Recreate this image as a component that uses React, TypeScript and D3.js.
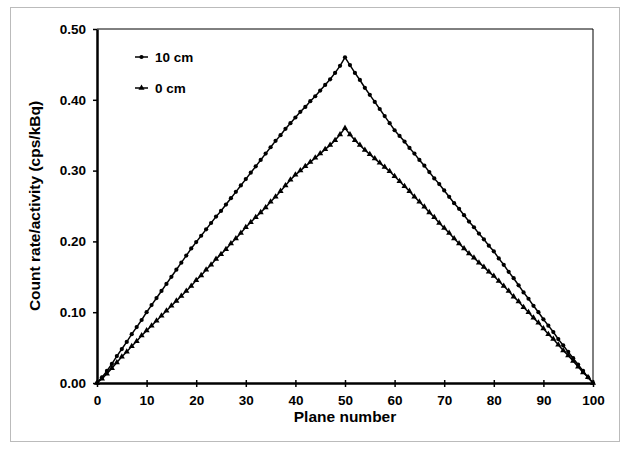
import React, { useEffect, useRef } from "react";
import * as d3 from "d3";

// plane index 0..100
const planes: number[] = d3.range(0, 101);

const series10cm: number[] = [
  0.000, 0.008, 0.017, 0.027, 0.038, 0.048, 0.058, 0.069, 0.079, 0.089,
  0.100, 0.110, 0.120, 0.130, 0.140, 0.150, 0.160, 0.170, 0.180, 0.190,
  0.199, 0.208, 0.217, 0.226, 0.235, 0.243, 0.252, 0.261, 0.270, 0.279,
  0.288, 0.297, 0.306, 0.315, 0.324, 0.333, 0.342, 0.350, 0.359, 0.367,
  0.375, 0.383, 0.390, 0.398, 0.405, 0.413, 0.421, 0.429, 0.438, 0.448,
  0.460, 0.449, 0.438, 0.428, 0.417, 0.407, 0.397, 0.387, 0.377, 0.367,
  0.357, 0.349, 0.341, 0.332, 0.324, 0.315, 0.307, 0.298, 0.289, 0.281,
  0.272, 0.263, 0.254, 0.246, 0.237, 0.228, 0.220, 0.211, 0.203, 0.194,
  0.186, 0.176, 0.167, 0.157, 0.148, 0.138, 0.128, 0.119, 0.109, 0.100,
  0.090, 0.081, 0.072, 0.062, 0.053, 0.044, 0.035, 0.026, 0.017, 0.008,
  0.000,
];

const series0cm: number[] = [
  0.000, 0.006, 0.013, 0.021, 0.029, 0.037, 0.044, 0.052, 0.059, 0.067,
  0.074, 0.081, 0.088, 0.095, 0.102, 0.109, 0.116, 0.123, 0.130, 0.137,
  0.145, 0.152, 0.160, 0.167, 0.175, 0.182, 0.189, 0.197, 0.204, 0.212,
  0.220, 0.227, 0.234, 0.241, 0.248, 0.256, 0.263, 0.271, 0.279, 0.287,
  0.294, 0.300, 0.306, 0.312, 0.318, 0.324, 0.330, 0.336, 0.343, 0.351,
  0.360, 0.351, 0.343, 0.336, 0.329, 0.323, 0.317, 0.311, 0.305, 0.299,
  0.292, 0.285, 0.278, 0.271, 0.263, 0.256, 0.249, 0.241, 0.234, 0.226,
  0.219, 0.212, 0.204, 0.197, 0.190, 0.183, 0.177, 0.170, 0.164, 0.157,
  0.151, 0.144, 0.137, 0.130, 0.122, 0.115, 0.107, 0.100, 0.092, 0.085,
  0.077, 0.069, 0.062, 0.054, 0.046, 0.039, 0.031, 0.023, 0.015, 0.008,
  0.000,
];

const legendLabels: string[] = ["10 cm", "0 cm"];
const xTicks: number[] = [0, 10, 20, 30, 40, 50, 60, 70, 80, 90, 100];
const yTicks: number[] = [0, 0.1, 0.2, 0.3, 0.4, 0.5];

const FONT = "'Liberation Sans', Arial, sans-serif";

const App = () => {
  const svgRef = useRef<SVGSVGElement>(null);

  useEffect(() => {
    const dims = { width: 623, height: 449, left: 97, right: 593, top: 29, bottom: 383 };
    const svg = d3.select(svgRef.current);
    svg.selectAll("*").remove();

    // outer scanned frame
    svg.append("rect")
      .attr("x", 10.5).attr("y", 7.5)
      .attr("width", 609).attr("height", 434)
      .attr("fill", "none")
      .attr("stroke", "#777")
      .attr("stroke-dasharray", "1,1");

    const xScale = d3.scaleLinear().domain([0, 100]).range([dims.left, dims.right]);
    const yScale = d3.scaleLinear().domain([0, 0.5]).range([dims.bottom, dims.top]);

    /** plot frame: thin top/right, thick left/bottom */
    svg.append("path")
      .attr("d", `M${dims.left},${dims.top}H${dims.right}V${dims.bottom}`)
      .attr("fill", "none").attr("stroke", "#000").attr("stroke-width", 1);

    /** x axis */
    const xAxis = svg.append("g")
      .attr("transform", `translate(0, ${dims.bottom})`)
      .call(d3.axisBottom(xScale).tickValues(xTicks).tickSizeInner(4).tickSizeOuter(0).tickPadding(8));
    xAxis.select(".domain").attr("stroke-width", 2.5);
    xAxis.selectAll(".tick line").attr("y1", -3).attr("stroke-width", 1.5);
    xAxis.selectAll(".tick text")
      .attr("font-family", FONT).attr("font-size", 13.5).attr("font-weight", "bold").attr("fill", "#000");

    /** y axis */
    const yAxis = svg.append("g")
      .attr("transform", `translate(${dims.left}, 0)`)
      .call(d3.axisLeft(yScale).tickValues(yTicks).tickFormat(d3.format(".2f")).tickSizeInner(4).tickSizeOuter(0).tickPadding(7));
    yAxis.select(".domain").attr("stroke-width", 2.5);
    yAxis.selectAll(".tick line").attr("stroke-width", 1.5);
    yAxis.selectAll(".tick text")
      .attr("font-family", FONT).attr("font-size", 13.5).attr("font-weight", "bold").attr("fill", "#000");

    // axis titles
    svg.append("text")
      .attr("x", (dims.left + dims.right) / 2)
      .attr("y", 422)
      .attr("text-anchor", "middle")
      .attr("font-family", FONT).attr("font-size", 15.5).attr("font-weight", "bold")
      .text("Plane number");

    svg.append("text")
      .attr("transform", `translate(40, ${(dims.top + dims.bottom) / 2}) rotate(-90)`)
      .attr("text-anchor", "middle")
      .attr("font-family", FONT).attr("font-size", 15.5).attr("font-weight", "bold")
      .text("Count rate/activity (cps/kBq)");

    /** series */
    const line = d3.line<number>()
      .x((d, i) => xScale(planes[i]))
      .y(d => yScale(d));

    const plot = svg.append("g");
    [series10cm, series0cm].forEach(s => {
      plot.append("path")
        .attr("d", line(s))
        .attr("fill", "none").attr("stroke", "#000").attr("stroke-width", 1.5);
    });

    const circleSym = d3.symbol().type(d3.symbolCircle).size(14);
    const triSym = d3.symbol().type(d3.symbolTriangle).size(16);

    plot.append("g").selectAll("path")
      .data(series10cm)
      .join("path")
      .attr("transform", (d, i) => `translate(${xScale(planes[i])}, ${yScale(d)})`)
      .attr("d", circleSym()!)
      .attr("fill", "#000");

    plot.append("g").selectAll("path")
      .data(series0cm)
      .join("path")
      .attr("transform", (d, i) => `translate(${xScale(planes[i])}, ${yScale(d)})`)
      .attr("d", triSym()!)
      .attr("fill", "#000");

    /** legend */
    const legend = svg.append("g").attr("transform", "translate(135, 0)");
    legendLabels.forEach((label, i) => {
      const y = 57 + i * 31;
      legend.append("line")
        .attr("x1", 0).attr("x2", 13).attr("y1", y).attr("y2", y)
        .attr("stroke", "#000").attr("stroke-width", 1.5);
      legend.append("path")
        .attr("transform", `translate(6.5, ${y})`)
        .attr("d", (i === 0 ? circleSym : triSym)()!)
        .attr("fill", "#000");
      legend.append("text")
        .attr("x", 20).attr("y", y + 5)
        .attr("font-family", FONT).attr("font-size", 13.5).attr("font-weight", "bold")
        .text(label);
    });
  }, []);

  return (
    <svg
      ref={svgRef}
      width={623}
      height={449}
      style={{ position: "absolute", left: 0, top: 0, background: "#fff" }}
    />
  );
};

export default App;
